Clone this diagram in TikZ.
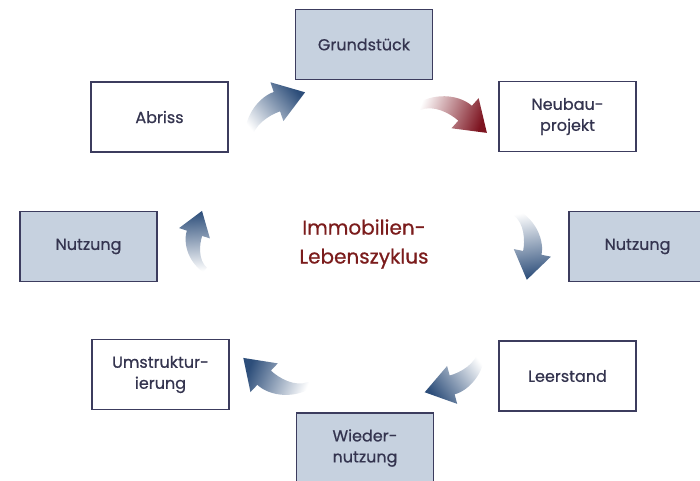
\documentclass[tikz,border=0pt]{standalone}
\usepackage{fontspec}
\setmainfont{Poppins}[FakeBold=0.6]
\usetikzlibrary{positioning}

\definecolor{boxline}{HTML}{3C3C5E}
\definecolor{boxfill}{HTML}{C6D1DF}
\definecolor{boxtext}{HTML}{34344F}
\definecolor{cycletext}{HTML}{7B1C1C}
\definecolor{arrowblue}{HTML}{2D4E7A}
\definecolor{arrowred}{HTML}{7D1420}

% curved block arrow: #1 tail, #2 rotation, #3 scale, #4 head colour
\newcommand{\bentarrow}[4]{%
  \pgfmathsetmacro{\shadeangle}{#2-48.5}%
  \shade[top color=#4, middle color=#4!60, bottom color=white,
         shading angle=\shadeangle, shift={(#1)}, rotate=#2, scale=#3]
    (-4,0) .. controls (-5,28) and (12.2,47.2) .. (26.3,52.3)% outer edge
    -- (22.5,62.7) -- (60,52.9) -- (37.5,21.3)% head
    -- (33.7,31.7) .. controls (22.4,27.6) and (5,16) .. (4,0)% inner edge
    -- cycle;%
}

\begin{document}
\begin{tikzpicture}[x=1pt, y=1pt,
    stage/.style={draw=boxline, line width=1.6pt, minimum width=137pt,
      minimum height=70pt, align=center, text=boxtext,
      font=\fontsize{16}{21}\selectfont},
    stagefill/.style={stage, fill=boxfill},
    stageplain/.style={stage, fill=white}]
    \useasboundingbox (0,0) rectangle (700,-480);

    \node[stagefill]  (Grund)   at (364,-44.5)   {Grundstück};
    \node[stageplain] (Neubau)  at (567.5,-116.5) {Neubau-\\projekt};
    \node[stagefill]  (NutzR)   at (637.5,-246.5) {Nutzung};
    \node[stageplain] (Leer)    at (567.5,-376)  {Leerstand};
    \node[stagefill]  (Wieder)  at (365,-448)    {Wieder-\\nutzung};
    \node[stageplain] (Umstr)   at (160.5,-374.5) {Umstruktur-\\ierung};
    \node[stagefill]  (NutzL)   at (88.5,-246.5) {Nutzung};
    \node[stageplain] (Abriss)  at (159.5,-117)  {Abriss};

    \node[text=cycletext, align=center, font=\fontsize{20}{29}\selectfont]
      (Cycle) at (364,-244) {Immobilien-\\Lebenszyklus};

    \coordinate (TailA) at (248,-140);% Abriss to Grundstueck
    \coordinate (TailB) at (418,-107);% Grundstueck to Neubau
    \coordinate (TailC) at (515,-212);% Neubau to Nutzung
    \coordinate (TailD) at (482,-350);% Leerstand to Wiedernutzung
    \coordinate (TailE) at (310,-385);% Wiedernutzung to Umstrukturierung
    \coordinate (TailF) at (205,-270);% Nutzung to Abriss

    \bentarrow{TailA}{-1.5}{0.93}{arrowblue}
    \bentarrow{TailB}{-62}{0.92}{arrowred}
    \bentarrow{TailC}{-121.5}{0.86}{arrowblue}
    \bentarrow{TailD}{175}{0.89}{arrowblue}
    \bentarrow{TailE}{116.5}{0.9}{arrowblue}
    \bentarrow{TailF}{51.5}{0.74}{arrowblue}
\end{tikzpicture}
\end{document}
